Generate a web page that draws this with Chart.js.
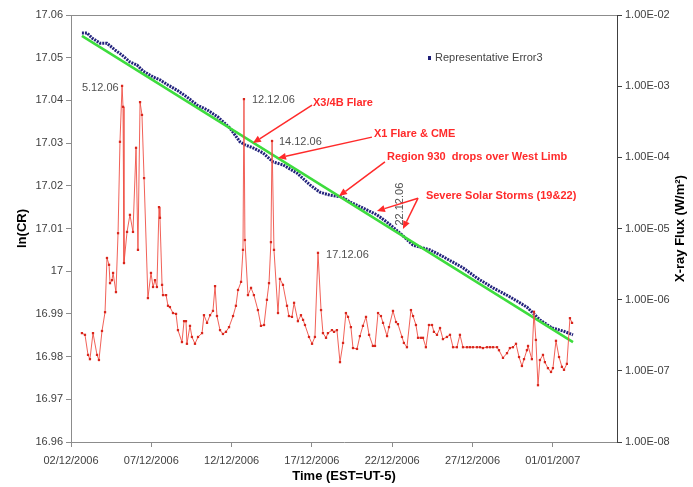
<!DOCTYPE html>
<html>
<head>
<meta charset="utf-8">
<script src="https://cdn.jsdelivr.net/npm/chart.js@4.4.0/dist/chart.umd.min.js"></script>
<style>
  html, body { margin: 0; padding: 0; background: #fff; }
  #wrap { width: 693px; height: 487px; }
</style>
</head>
<body>
<div id="wrap"><canvas id="chart" width="693" height="487"></canvas></div>
<script>
// x is days counted from 02/12/2006 00:00
const xTickDays = [0, 5, 10, 15, 20, 25, 30];
const xTickLabels = ['02/12/2006', '07/12/2006', '12/12/2006', '17/12/2006', '22/12/2006', '27/12/2006', '01/01/2007'];
const lnTicks = [16.96, 16.97, 16.98, 16.99, 17, 17.01, 17.02, 17.03, 17.04, 17.05, 17.06];
const fluxTicks = [1e-8, 1e-7, 1e-6, 1e-5, 1e-4, 1e-3, 1e-2];

// ln(CR), red series
const crDays = [
  0.68, 0.87, 1.06, 1.18, 1.37, 1.62, 1.74, 1.93, 2.12, 2.24, 2.37, 2.43, 2.55, 2.62, 2.80, 2.93,
  3.05, 3.18, 3.24, 3.30, 3.49, 3.67, 3.86, 4.05, 4.17, 4.30, 4.42, 4.55, 4.79, 4.98, 5.11, 5.23,
  5.35, 5.48, 5.54, 5.67, 5.73, 5.92, 6.04, 6.16, 6.35, 6.54, 6.66, 6.91, 7.04, 7.16, 7.22, 7.41,
  7.53, 7.72, 7.91, 8.16, 8.28, 8.47, 8.66, 8.84, 8.97, 9.09, 9.28, 9.46, 9.65, 9.84, 10.09, 10.27,
  10.40, 10.59, 10.71, 10.77, 10.83, 11.02, 11.21, 11.39, 11.64, 11.83, 12.02, 12.20, 12.33, 12.45,
  12.52, 12.64, 12.89, 13.01, 13.20, 13.45, 13.57, 13.76, 13.89, 14.13, 14.32, 14.45, 14.57, 14.82,
  15.01, 15.19, 15.38, 15.57, 15.69, 15.88, 16.00, 16.25, 16.38, 16.56, 16.75, 16.94, 17.12, 17.25,
  17.43, 17.56, 17.81, 17.99, 18.18, 18.37, 18.56, 18.80, 18.93, 19.12, 19.30, 19.43, 19.68, 19.80,
  20.05, 20.24, 20.36, 20.61, 20.73, 20.92, 21.17, 21.30, 21.48, 21.61, 21.79, 21.92, 22.10, 22.29,
  22.48, 22.60, 22.79, 22.98, 23.16, 23.41, 23.60, 23.79, 24.03, 24.22, 24.41, 24.66, 24.84, 25.03,
  25.28, 25.47, 25.65, 25.90, 26.09, 26.28, 26.53, 26.65, 26.90, 27.15, 27.33, 27.52, 27.71, 27.90,
  28.08, 28.21, 28.39, 28.46, 28.70, 28.83, 28.95, 29.08, 29.20, 29.39, 29.51, 29.70, 29.89, 30.01,
  30.20, 30.39, 30.57, 30.70, 30.88, 31.07, 31.20
];
const crValues = [
  16.9855, 16.9851, 16.9804, 16.9794, 16.9855, 16.9804, 16.9792, 16.9860, 16.9904, 17.0031, 17.0015, 16.9972, 16.9979, 16.9996, 16.9951, 17.0089,
  17.0303, 17.0434, 17.0385, 17.0019, 17.0092, 17.0132, 17.0092, 17.0289, 17.0050, 17.0396, 17.0366, 17.0218, 16.9937, 16.9996, 16.9963, 16.9979,
  16.9963, 17.0150, 17.0125, 16.9968, 16.9944, 16.9944, 16.9919, 16.9916, 16.9902, 16.9900, 16.9862, 16.9834, 16.9883, 16.9883, 16.9830, 16.9872,
  16.9846, 16.9830, 16.9846, 16.9855, 16.9897, 16.9879, 16.9897, 16.9907, 16.9965, 16.9895, 16.9862, 16.9853, 16.9858, 16.9869, 16.9895, 16.9919,
  16.9956, 16.9975, 17.0050, 17.0403, 17.0073, 16.9944, 16.9961, 16.9944, 16.9909, 16.9872, 16.9874, 16.9933, 16.9972, 17.0068,
  17.0305, 17.0050, 16.9902, 16.9982, 16.9968, 16.9919, 16.9895, 16.9893, 16.9926, 16.9883, 16.9897, 16.9886, 16.9874, 16.9846,
  16.9830, 16.9846, 17.0043, 16.9909, 16.9855, 16.9844, 16.9855, 16.9862, 16.9858, 16.9862, 16.9787, 16.9832, 16.9902, 16.9893,
  16.9869, 16.9820, 16.9818, 16.9848, 16.9872, 16.9893, 16.9851, 16.9825, 16.9825, 16.9902, 16.9895, 16.9879, 16.9848, 16.9869,
  16.9907, 16.9881, 16.9876, 16.9846, 16.9832, 16.9822, 16.9909, 16.9895, 16.9874, 16.9844, 16.9844, 16.9844, 16.9822, 16.9874,
  16.9874, 16.9858, 16.9851, 16.9867, 16.9841, 16.9846, 16.9851, 16.9822, 16.9822, 16.9851, 16.9822, 16.9822, 16.9822, 16.9822,
  16.9822, 16.9822, 16.9820, 16.9822, 16.9822, 16.9822, 16.9822, 16.9815, 16.9797, 16.9808, 16.9820, 16.9822, 16.9830, 16.9799,
  16.9778, 16.9794, 16.9815, 16.9825, 16.9794, 16.9905, 16.9839, 16.9733, 16.9792, 16.9804, 16.9787, 16.9773, 16.9764, 16.9773,
  16.9837, 16.9799, 16.9776, 16.9769, 16.9783, 16.9890, 16.9879
];

// Representative Error3, dark blue dots
const errDays = [
  0.68, 1.00, 1.31, 1.81, 2.24, 2.74, 3.18, 3.67, 4.11, 4.48, 5.11, 5.54, 6.04, 6.60, 7.22, 7.85,
  8.47, 9.15, 9.90, 10.52, 10.83, 11.33, 11.96, 12.58, 13.20, 14.07, 14.88, 15.50, 16.13, 16.87,
  17.37, 18.18, 19.05, 19.74, 20.49, 21.30, 22.35, 22.98, 24.41, 25.28, 26.28, 27.33, 28.39, 29.20,
  29.95, 30.64, 31.26
];
const errValues = [
  17.0558, 17.0558, 17.0546, 17.0534, 17.0534, 17.0518, 17.0506, 17.0490, 17.0483, 17.0469, 17.0455, 17.0448, 17.0436, 17.0424, 17.0408, 17.0389,
  17.0378, 17.0361, 17.0335, 17.0303, 17.0296, 17.0289, 17.0277, 17.0256, 17.0249, 17.0230, 17.0202, 17.0185, 17.0178, 17.0174,
  17.0162, 17.0148, 17.0132, 17.0113, 17.0089, 17.0061, 17.0050, 17.0038, 17.0008, 16.9984, 16.9961, 16.9940, 16.9916, 16.9886,
  16.9867, 16.9860, 16.9851
];

// green trend line
const trendDays = [0.68, 31.26];
const trendValues = [17.0551, 16.9834];

// annotation anchors, in axis units
const dateNotes = [
  { text: '5.12.06', d: 0.68, v: 17.0429 },
  { text: '12.12.06', d: 11.27, v: 17.0401 },
  { text: '14.12.06', d: 12.95, v: 17.0303 },
  { text: '17.12.06', d: 15.88, v: 17.0038 },
  { text: '22.12.06', d: 20.49, v: 17.0157, vertical: true }
];
const eventNotes = [
  { text: 'X3/4B Flare', d: 15.07, v: 17.0394, arrows: [[15.01, 17.0389, 11.33, 17.0300]] },
  { text: 'X1 Flare & CME', d: 18.87, v: 17.0321, arrows: [[18.74, 17.0314, 12.89, 17.0265]] },
  { text: 'Region 930  drops over West Limb', d: 19.68, v: 17.0267, arrows: [[19.55, 17.0256, 16.69, 17.0176]] },
  { text: 'Severe Solar Storms (19&22)', d: 22.10, v: 17.0176, arrows: [[21.61, 17.0171, 19.05, 17.0141], [21.61, 17.0171, 20.67, 17.0099]] }
];

const pts = (xs, ys) => xs.map((d, i) => ({ x: d, y: ys[i] }));
const FONT = '"Liberation Sans", Arial, sans-serif';

function arrow(ctx, x0, y0, x1, y1) {
  const ang = Math.atan2(y1 - y0, x1 - x0);
  const len = 8, half = 3.5;
  const bx = x1 - len * Math.cos(ang), by = y1 - len * Math.sin(ang);
  ctx.beginPath();
  ctx.moveTo(x0, y0);
  ctx.lineTo(bx, by);
  ctx.stroke();
  ctx.beginPath();
  ctx.moveTo(x1, y1);
  ctx.lineTo(bx + half * Math.sin(ang), by - half * Math.cos(ang));
  ctx.lineTo(bx - half * Math.sin(ang), by + half * Math.cos(ang));
  ctx.closePath();
  ctx.fill();
}

const overlay = {
  id: 'overlay',
  afterDatasetsDraw(chart) {
    const { ctx, chartArea: a, scales: { x, y } } = chart;
    ctx.save();
    // top frame line
    ctx.strokeStyle = '#8c8c8c';
    ctx.lineWidth = 1;
    ctx.beginPath();
    ctx.moveTo(a.left, a.top + 0.5);
    ctx.lineTo(a.right, a.top + 0.5);
    ctx.stroke();

    // grey date labels
    ctx.font = '11px ' + FONT;
    ctx.fillStyle = '#505050';
    ctx.textBaseline = 'middle';
    ctx.textAlign = 'left';
    dateNotes.forEach(n => {
      const px = x.getPixelForValue(n.d), py = y.getPixelForValue(n.v);
      if (n.vertical) {
        ctx.save();
        ctx.translate(px, py);
        ctx.rotate(-Math.PI / 2);
        ctx.textAlign = 'center';
        ctx.fillText(n.text, 0, 0);
        ctx.restore();
      } else {
        ctx.fillText(n.text, px, py);
      }
    });

    // red event labels with arrows
    ctx.font = 'bold 11px ' + FONT;
    ctx.fillStyle = '#ff2a2a';
    ctx.strokeStyle = '#ff2a2a';
    ctx.lineWidth = 1.5;
    eventNotes.forEach(n => {
      ctx.fillText(n.text, x.getPixelForValue(n.d), y.getPixelForValue(n.v));
      n.arrows.forEach(r => arrow(ctx,
        x.getPixelForValue(r[0]), y.getPixelForValue(r[1]),
        x.getPixelForValue(r[2]), y.getPixelForValue(r[3])));
    });

    // legend
    ctx.fillStyle = '#1e1e78';
    ctx.fillRect(a.right - 189, a.top + 41, 3, 4);
    ctx.fillStyle = '#444';
    ctx.font = '11px ' + FONT;
    ctx.fillText('Representative Error3', a.right - 182, a.top + 43);
    ctx.restore();
  },
  afterDraw(chart) {
    const { ctx, chartArea: a } = chart;
    const midY = (a.top + a.bottom) / 2;
    ctx.save();
    ctx.fillStyle = '#000';
    ctx.font = 'bold 13px ' + FONT;
    ctx.textAlign = 'center';
    ctx.textBaseline = 'middle';
    ctx.fillText('Time (EST=UT-5)', (a.left + a.right) / 2, 476);
    [[22, 'ln(CR)'], [680, 'X-ray Flux (W/m\u00B2)']].forEach(([px, t]) => {
      ctx.save();
      ctx.translate(px, midY);
      ctx.rotate(-Math.PI / 2);
      ctx.fillText(t, 0, 0);
      ctx.restore();
    });
    ctx.restore();
  }
};

const tickFont = { family: FONT, size: 11 };

new Chart(document.getElementById('chart').getContext('2d'), {
  type: 'scatter',
  data: {
    datasets: [
      {
        label: 'ln(CR)',
        data: pts(crDays, crValues),
        showLine: true,
        borderColor: 'rgba(240, 80, 70, 0.9)',
        borderWidth: 1,
        pointStyle: 'rect',
        pointRadius: 1.6,
        pointBackgroundColor: '#d8261c',
        pointBorderWidth: 0,
        yAxisID: 'y'
      },
      {
        label: 'Trend',
        data: pts(trendDays, trendValues),
        showLine: true,
        borderColor: '#3ddc3d',
        borderWidth: 2.5,
        pointRadius: 0,
        yAxisID: 'y'
      },
      {
        label: 'Representative Error3',
        data: pts(errDays, errValues),
        showLine: true,
        borderColor: '#22227c',
        borderWidth: 3,
        borderDash: [2, 1],
        pointRadius: 0,
        yAxisID: 'y'
      }
    ]
  },
  options: {
    responsive: false,
    animation: false,
    layout: { padding: { top: 15, left: 0, right: 0, bottom: 0 } },
    plugins: { legend: { display: false }, tooltip: { enabled: false } },
    scales: {
      x: {
        type: 'linear',
        min: 0,
        max: 34,
        afterBuildTicks: s => { s.ticks = xTickDays.map(v => ({ value: v })); },
        afterFit: s => { s.height = 45; },
        grid: { drawOnChartArea: false, tickLength: 5, color: '#8c8c8c' },
        border: { color: '#8c8c8c' },
        ticks: {
          font: tickFont, color: '#404040', padding: 7, maxRotation: 0,
          callback: (v, i) => xTickLabels[i]
        }
      },
      y: {
        position: 'left',
        min: 16.96,
        max: 17.06,
        afterBuildTicks: s => { s.ticks = lnTicks.map(v => ({ value: v })); },
        afterFit: s => { s.width = 71; },
        grid: { drawOnChartArea: false, tickLength: 5, color: '#8c8c8c' },
        border: { color: '#8c8c8c' },
        ticks: {
          font: tickFont, color: '#404040', padding: 3,
          callback: v => String(Number(v.toFixed(2)))
        }
      },
      y1: {
        type: 'logarithmic',
        position: 'right',
        min: 1e-8,
        max: 1e-2,
        afterBuildTicks: s => { s.ticks = fluxTicks.map(v => ({ value: v })); },
        afterFit: s => { s.width = 76; },
        grid: { drawOnChartArea: false, tickLength: 5, color: '#404040' },
        border: { color: '#404040' },
        ticks: {
          font: tickFont, color: '#404040', padding: 3,
          callback: v => {
            const [m, e] = Number(v).toExponential(2).split('e');
            const n = Math.abs(parseInt(e, 10));
            return m + 'E' + (e[0] === '-' ? '-' : '+') + String(n).padStart(2, '0');
          }
        }
      }
    }
  },
  plugins: [overlay]
});
</script>
</body>
</html>
